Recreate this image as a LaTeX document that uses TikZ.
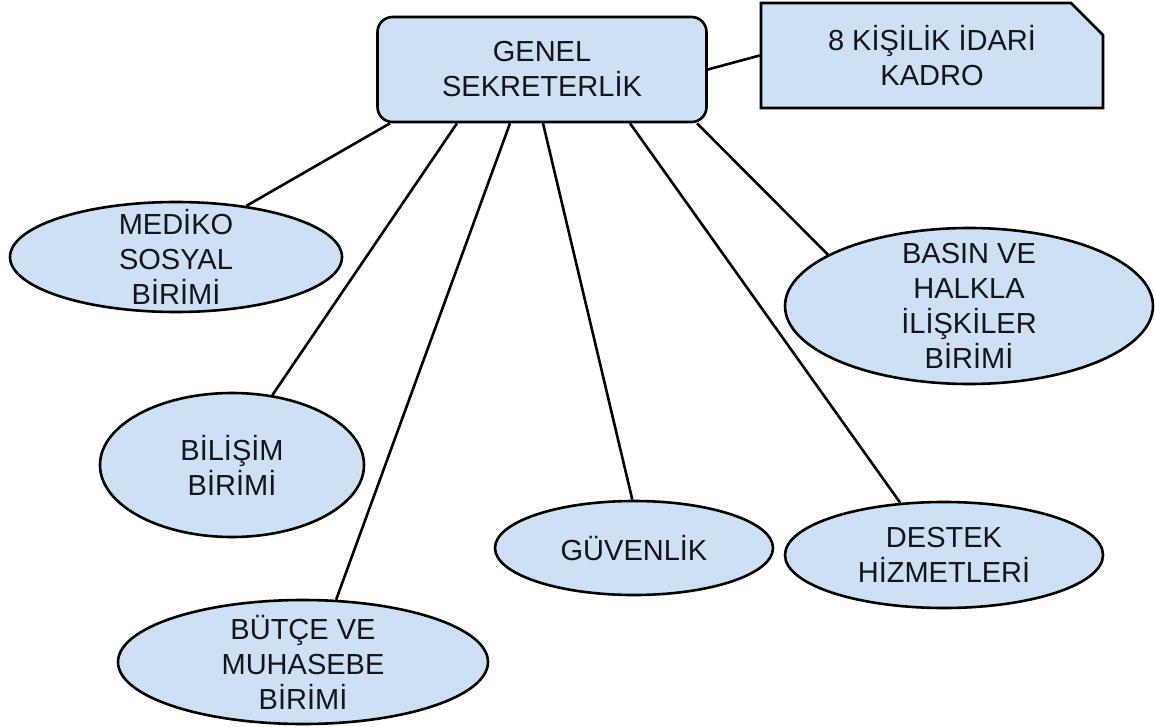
\documentclass[tikz,border=0pt]{standalone}
\usepackage{fontspec}
\setmainfont{Liberation Sans}
\usetikzlibrary{shapes.geometric,shapes.misc}
\definecolor{unitfill}{HTML}{CEE0F3}
\definecolor{unittext}{HTML}{14141C}

\begin{document}
\begin{tikzpicture}[x=1pt,y=-1pt,
    every node/.append style={draw,line width=2.6pt,fill=unitfill,text=unittext,
      align=center,font=\fontsize{29}{35}\selectfont},
    unit/.style={ellipse,inner sep=-60pt},
    link/.style={line width=2.6pt}]
    \useasboundingbox (0,0) rectangle (1155,727);

    \node[rounded corners=15pt,minimum width=329pt,minimum height=105pt] (genel) at (542,69.5) {GENEL\\SEKRETERLİK};
    \node[chamfered rectangle,chamfered rectangle corners=north east,
      chamfered rectangle xsep=16pt,chamfered rectangle ysep=16pt,
      minimum width=342pt,minimum height=105pt] (kadro) at (932,55.5) {8 KİŞİLİK İDARİ\\KADRO};

    \node[unit,minimum width=332pt,minimum height=110pt] (medsos) at (176,257) {MEDİKO\\SOSYAL\\BİRİMİ};
    \node[unit,minimum width=264pt,minimum height=144pt] (bilisim) at (232,465) {BİLİŞİM\\BİRİMİ};
    \node[unit,minimum width=370pt,minimum height=124pt] (butce) at (303,662) {BÜTÇE VE\\MUHASEBE\\BİRİMİ};
    \node[unit,minimum width=278pt,minimum height=94pt] (guvenlik) at (634,548) {GÜVENLİK};
    \node[unit,minimum width=318pt,minimum height=106pt] (destek) at (944,555) {DESTEK\\HİZMETLERİ};
    \node[unit,minimum width=368pt,minimum height=156pt] (basin) at (969,306) {BASIN VE\\HALKLA\\İLİŞKİLER\\BİRİMİ};

    \draw[link] (genel.east) -- (kadro.west);
    \draw[link] ([xshift=-152pt]genel.south) -- (medsos.36);
    \draw[link] ([xshift=-85pt]genel.south) -- (bilisim.60);
    \draw[link] ([xshift=-32pt]genel.south) -- (butce.62);
    \draw[link] ([xshift=1pt]genel.south) -- (guvenlik.92);
    \draw[link] ([xshift=88pt]genel.south) -- (destek.130);
    \draw[link] ([xshift=155pt]genel.south) -- (basin.160);
\end{tikzpicture}
\end{document}
